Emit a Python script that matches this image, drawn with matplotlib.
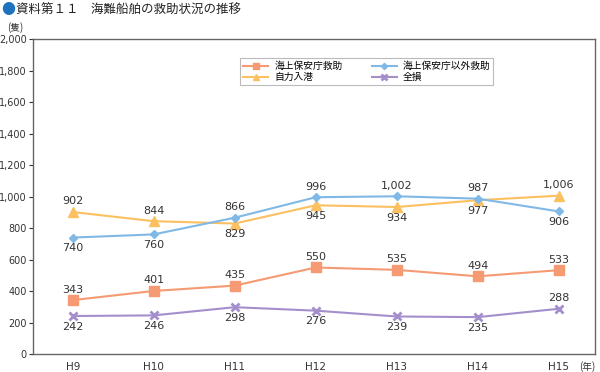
import matplotlib
matplotlib.use("Agg")
import matplotlib.pyplot as plt
from matplotlib.ticker import FuncFormatter

plt.rcParams["font.family"] = ["Noto Sans CJK JP", "DejaVu Sans"]

years = ["H9", "H10", "H11", "H12", "H13", "H14", "H15"]
kaiho = [343, 401, 435, 550, 535, 494, 533]
igai = [740, 760, 866, 996, 1002, 987, 906]
jiriki = [902, 844, 829, 945, 934, 977, 1006]
zenson = [242, 246, 298, 276, 239, 235, 288]

# 数値ラベルの上下 (1=上, -1=下)
pos_kaiho = [1, 1, 1, 1, 1, 1, 1]
pos_igai = [-1, -1, 1, 1, 1, 1, -1]
pos_jiriki = [1, 1, -1, -1, -1, -1, 1]
pos_zenson = [-1, -1, -1, -1, -1, -1, 1]

# 凡例の並び順に合わせる（列優先）
series = [
    ("海上保安庁救助", kaiho, pos_kaiho, "#F59A72", "s", 7),
    ("自力入港", jiriki, pos_jiriki, "#FBC060", "^", 7),
    ("海上保安庁以外救助", igai, pos_igai, "#80B8E6", "D", 4.5),
    ("全損", zenson, pos_zenson, "#A48ECC", "x", 6),
]

fig = plt.figure(figsize=(6, 3.72), dpi=100)
ax = fig.add_axes([0.055, 0.048, 0.937, 0.847])

x = list(range(len(years)))
for name, vals, pos, color, mk, ms in series:
    ax.plot(x, vals, color=color, marker=mk, markersize=ms, linewidth=1.5,
            markeredgewidth=2 if mk == "x" else 1, label=name)
    for xi, v, p in zip(x, vals, pos):
        ax.annotate(f"{v:,}", (xi, v), xytext=(0, 4 * p), textcoords="offset points",
                    ha="center", va="bottom" if p > 0 else "top",
                    fontsize=8, color="#333333", family=["DejaVu Sans"])

ax.set_xlim(-0.49, 6.45)
ax.set_ylim(0, 2000)
ax.set_yticks(range(0, 2001, 200))
ax.yaxis.set_major_formatter(FuncFormatter(lambda v, _: f"{int(v):,}"))
ax.set_xticks(x)
ax.set_xticklabels(years)
ax.tick_params(axis="x", length=0, labelsize=7.5, colors="#333333", pad=6)
ax.tick_params(axis="y", length=3, labelsize=7, colors="#333333", direction="out", pad=1.5)
for lbl in ax.get_yticklabels() + ax.get_xticklabels():
    lbl.set_family(["DejaVu Sans"])
for s in ax.spines.values():
    s.set_color("#666666")
    s.set_linewidth(1)

leg = ax.legend(loc="upper left", bbox_to_anchor=(0.36, 0.955), ncol=2,
                fontsize=7, frameon=True, fancybox=False, edgecolor="#aaaaaa",
                handlelength=2.6, columnspacing=3.0, borderpad=0.3,
                labelspacing=0.1, markerscale=0.7, handletextpad=0.6)
leg.get_frame().set_linewidth(0.8)

fig.text(0.002, 0.972, "●", color="#1E73BE", fontsize=10, va="center", ha="left")
fig.text(0.027, 0.972, "資料第１１　海難船舶の救助状況の推移", fontsize=9,
         va="center", ha="left", color="#222222")
fig.text(0.025, 0.925, "(隻)", fontsize=7, ha="center", va="center", color="#333333")
fig.text(0.978, 0.016, "(年)", fontsize=7, ha="center", va="center", color="#333333")

fig.savefig("out.png", dpi=100)
